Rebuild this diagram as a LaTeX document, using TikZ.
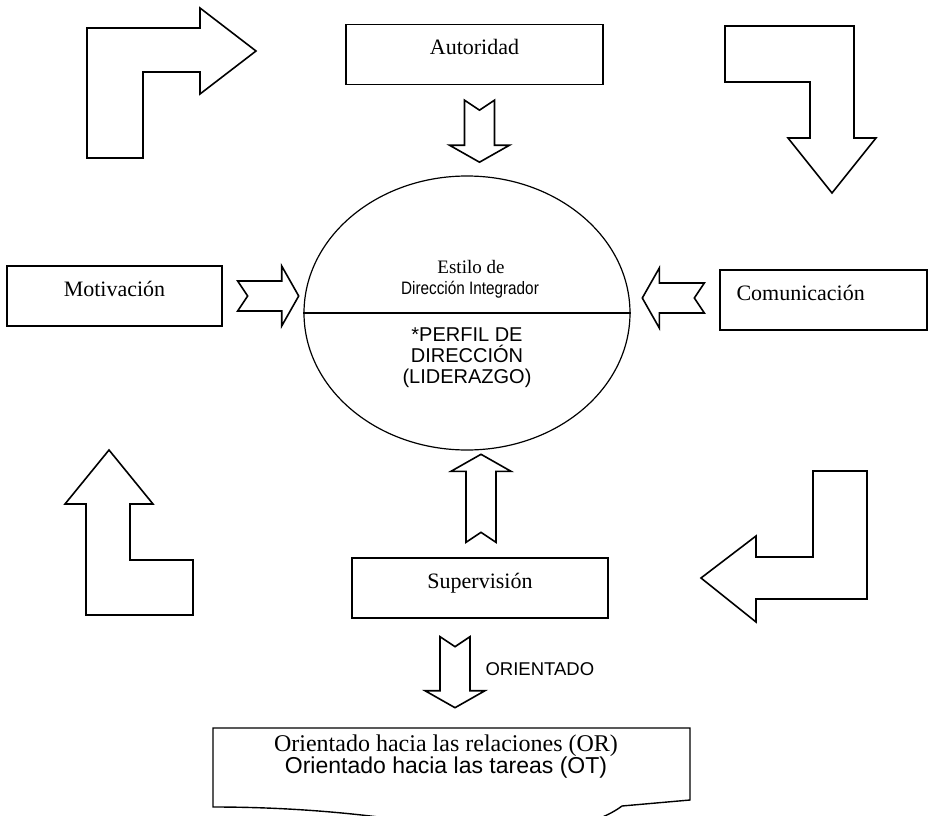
\documentclass[tikz,border=0pt]{standalone}
\usepackage{fontspec}
\setmainfont{Liberation Serif}
\setsansfont{Liberation Sans}
\newfontfamily\narrowsf[FakeStretch=0.85]{Liberation Sans}
\usetikzlibrary{calc,shapes.geometric}

\tikzset{
  box/.style={draw, line width=1.4pt, minimum height=60pt, inner sep=0pt,
    text height=9pt, text depth=9pt, font=\fontsize{22}{26}\selectfont},
  blockarrow/.style={draw, line width=1.6pt, line join=miter},
}
% block arrow with notched tail: tail point, angle, length
\newcommand{\notcharrow}[3]{%
  \draw[blockarrow, shift={#1}, rotate=#2]
    (0,15) -- ({#3-17},15) -- ({#3-17},30) -- (#3,0) -- ({#3-17},-30)
    -- ({#3-17},-15) -- (0,-15) -- (10,0) -- cycle;}

\begin{document}
\begin{tikzpicture}[x=1pt,y=-1pt]
  \useasboundingbox (0,0) rectangle (930,816);
  \clip (0,0) rectangle (930,816);

  \node[box, minimum width=257pt] (aut) at (474.5,54.5) {Autoridad};
  \node[box, minimum width=215pt] (mot) at (114.5,296) {Motivación};
  \node[box, minimum width=207pt, text width=174pt, align=left] (com)
    at (823.5,300) {Comunicación};
  \node[box, minimum width=256pt] (sup) at (480,588) {Supervisión};

  \node[ellipse, draw, line width=1.2pt, minimum width=326pt,
    minimum height=274pt, inner sep=0pt] (core) at (467,313) {};
  \draw[line width=1.2pt] (core.west) -- (core.east);
  \node[font=\fontsize{19}{21}\selectfont] (estilo)
    at ($(core.center)+(4,-46)$) {Estilo de};
  \node[font=\narrowsf\fontsize{18}{22}\selectfont] (integ)
    at ($(core.center)+(3,-23)$) {Dirección Integrador};
  \node[font=\sffamily\fontsize{20}{21}\selectfont, align=center] (perfil)
    at ($(core.center)+(0,45)$) {*PERFIL DE\\DIRECCIÓN\\(LIDERAZGO)};

  % arrows into the circle
  \notcharrow{($(aut.south)+(5,15)$)}{-90}{62}
  \notcharrow{($(mot.east)+(15,0)$)}{0}{61}
  \notcharrow{($(com.west)+(-15,-2)$)}{180}{62}
  \notcharrow{($(sup.north)+(1,-15)$)}{90}{88}

  % orientation
  \notcharrow{($(sup.south)+(-25,18)$)}{-90}{71}
  \node[font=\sffamily\fontsize{18.5}{22}\selectfont, anchor=west] (ori)
    at (482,669) {ORIENTADO};
  \draw[line width=1.4pt] (213,728) -- (690,728) -- (690,800) -- (622,806)
    .. controls (590,830) and (520,840) .. (450,828)
    .. controls (380,815) and (300,807) .. (213,807) -- cycle;
  \node[font=\fontsize{24}{22}\selectfont, align=center] (tipos) at (446,757)
    {Orientado hacia las relaciones (OR)\\
     {\sffamily\fontsize{23}{22}\selectfont Orientado hacia las tareas (OT)}};

  % cycle arrows in the corners
  \draw[blockarrow] (87,158) -- (87,28) -- (200,28) -- (200,8) -- (256,51)
    -- (200,94) -- (200,72) -- (143,72) -- (143,158) -- cycle;
  \draw[blockarrow] (725,26) -- (854,26) -- (854,138) -- (876,138) -- (832,193)
    -- (788,138) -- (810,138) -- (810,82) -- (725,82) -- cycle;
  \draw[blockarrow] (867,471) -- (867,599) -- (756,599) -- (756,622) -- (701,578)
    -- (756,536) -- (756,557) -- (813,557) -- (813,471) -- cycle;
  \draw[blockarrow] (193,615) -- (86,615) -- (86,504) -- (65,504) -- (109,450)
    -- (153,504) -- (130,504) -- (130,560) -- (193,560) -- cycle;
\end{tikzpicture}
\end{document}
